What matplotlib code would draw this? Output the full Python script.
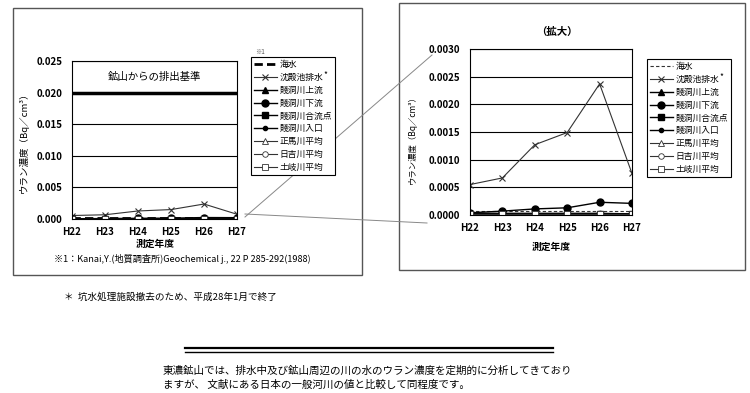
import matplotlib
matplotlib.use("Agg")
import matplotlib.pyplot as plt
from matplotlib.lines import Line2D
from matplotlib.patches import Rectangle
from matplotlib.ticker import FormatStrFormatter, MultipleLocator

plt.rcParams['font.family'] = ['Noto Sans CJK JP', 'DejaVu Sans']

# ---- data ----
years = ['H22', 'H23', 'H24', 'H25', 'H26', 'H27']
seawater = [0.00008, 0.00008, 0.00008, 0.00008, 0.00008, 0.00008]
settling_pond = [0.00055, 0.00067, 0.00127, 0.00149, 0.00237, 0.00075]
river_upstream = [0.00003, 0.00002, 0.00002, 0.00002, 0.00002, 0.00002]
river_downstream = [0.00004, 0.00007, 0.00011, 0.00013, 0.00023, 0.00021]
river_confluence = [0.00002, 0.00001, 0.00001, 0.00001, 0.00001, 0.00001]
river_inlet = [0.00003, 0.00003, 0.00003, 0.00003, 0.00003, 0.00002]
shoma_avg = [0.00002, 0.00002, 0.00002, 0.00002, 0.00002, 0.00002]
hiyoshi_avg = [0.00002, 0.00002, 0.00002, 0.00002, 0.00002, 0.00002]
toki_avg = [0.00001, 0.00001, 0.00001, 0.00001, 0.00001, 0.00001]
limit_value = 0.020

labels = ['海水', '沈殿池排水', '賤洞川上流', '賤洞川下流', '賤洞川合流点',
          '賤洞川入口', '正馬川平均', '日吉川平均', '土岐川平均']

W, H = 750, 393
fig = plt.figure(figsize=(7.5, 3.93), dpi=100)

def fx(px):
    return px / W

def fy(py):
    return 1 - py / H

x = list(range(len(years)))

def draw(ax, sea_lw, sea_color, sea_dash):
    hs = []
    hs += ax.plot(x, seawater, ls=sea_dash, color=sea_color, lw=sea_lw)
    hs += ax.plot(x, settling_pond, color='#333333', lw=0.8, marker='x', ms=5, mew=0.8)
    hs += ax.plot(x, river_upstream, color='black', lw=1.0, marker='^', ms=4)
    hs += ax.plot(x, river_downstream, color='black', lw=1.0, marker='o', ms=5)
    hs += ax.plot(x, river_confluence, color='black', lw=1.0, marker='s', ms=5)
    hs += ax.plot(x, river_inlet, color='black', lw=1.0, marker='o', ms=3)
    hs += ax.plot(x, shoma_avg, color='#333333', lw=0.8, marker='^', ms=4, mfc='white', mew=0.6)
    hs += ax.plot(x, hiyoshi_avg, color='#333333', lw=0.8, marker='o', ms=4, mfc='white', mew=0.6)
    hs += ax.plot(x, toki_avg, color='#333333', lw=0.8, marker='s', ms=4, mfc='white', mew=0.6)
    ax.set_xlim(0, len(years) - 1)
    ax.set_xticks(x)
    ax.set_xticklabels(years)
    ax.grid(axis='y', color='black', lw=0.8)
    ax.set_axisbelow(True)
    for s in ax.spines.values():
        s.set_color('black')
        s.set_linewidth(0.8)
    ax.tick_params(length=0, labelsize=7)
    ax.tick_params(axis='x', pad=6)
    ax.tick_params(axis='y', pad=7)
    return hs

def style_ticks(ax):
    for t in ax.get_xticklabels() + ax.get_yticklabels():
        t.set_fontweight('bold')

# ---- panel boxes ----
fig.add_artist(Rectangle((fx(13), fy(275)), fx(362) - fx(13), fy(8) - fy(275),
                         transform=fig.transFigure, fill=False, ec='#555555', lw=1, zorder=-3))
fig.add_artist(Rectangle((fx(399), fy(270)), fx(745) - fx(399), fy(3) - fy(270),
                         transform=fig.transFigure, fill=False, ec='#555555', lw=1, zorder=-3))

# ---- connecting lines ----
fig.add_artist(Line2D([fx(245), fx(432)], [fy(217), fy(55)], transform=fig.transFigure,
                      color='#888888', lw=0.7, zorder=-2))
fig.add_artist(Line2D([fx(245), fx(427)], [fy(214), fy(223)], transform=fig.transFigure,
                      color='#888888', lw=0.7, zorder=-2))

leg_kw = dict(loc='upper left', bbox_transform=fig.transFigure, borderaxespad=0,
              fontsize=6.3, fancybox=False, edgecolor='black', framealpha=1,
              labelspacing=0.44, handlelength=2.6, handletextpad=0.3, borderpad=0.35)

# ---- left chart ----
ax1 = fig.add_axes([fx(72), fy(219), fx(237) - fx(72), fy(61) - fy(219)])
h1 = draw(ax1, 2.0, 'black', (0, (3, 1.5)))
ax1.axhline(limit_value, color='black', lw=2.5, zorder=3)
ax1.set_ylim(0, 0.025)
ax1.yaxis.set_major_locator(MultipleLocator(0.005))
ax1.yaxis.set_major_formatter(FormatStrFormatter('%.3f'))
style_ticks(ax1)
ax1.text((len(years) - 1) / 2, 0.0225, '鉱山からの排出基準', ha='center', va='center', fontsize=7.5)
leg1 = ax1.legend(h1, labels, bbox_to_anchor=(fx(251), fy(57)), **leg_kw)
leg1.get_frame().set_linewidth(0.8)

# ---- right chart ----
ax2 = fig.add_axes([fx(470), fy(215), fx(632) - fx(470), fy(49) - fy(215)])
h2 = draw(ax2, 0.8, '#333333', (0, (3, 2)))
ax2.set_ylim(0, 0.003)
ax2.yaxis.set_major_locator(MultipleLocator(0.0005))
ax2.yaxis.set_major_formatter(FormatStrFormatter('%.4f'))
style_ticks(ax2)
leg2 = ax2.legend(h2, labels, bbox_to_anchor=(fx(647), fy(59)), **leg_kw)
leg2.get_frame().set_linewidth(0.8)

# ---- texts ----
ylab = 'ウラン濃度（Bq／cm³）'
fig.text(fx(24), fy(140), ylab, rotation=90, ha='center', va='center', fontsize=6.8)
fig.text(fx(412), fy(138), ylab, rotation=90, ha='center', va='center', fontsize=6.0)
fig.text(fx(155), fy(244), '測定年度', ha='center', va='center', fontsize=7, fontweight='bold')
fig.text(fx(551), fy(247), '測定年度', ha='center', va='center', fontsize=7, fontweight='bold')
fig.text(fx(557), fy(32), '（拡大）', ha='center', va='center', fontsize=7.5, fontweight='bold')
fig.text(fx(182), fy(259), '※1：Kanai,Y.(地質調査所)Geochemical j., 22 P 285-292(1988)',
         ha='center', va='center', fontsize=6.6)
fig.text(fx(255), fy(52), '※1', ha='left', va='center', fontsize=4.5, color='#555555')
fig.text(fx(64), fy(297), '＊  坑水処理施設撤去のため、平成28年1月で終了',
         ha='left', va='center', fontsize=6.9)

# double rule
fig.add_artist(Line2D([fx(185), fx(553)], [fy(348), fy(348)], transform=fig.transFigure,
                      color='black', lw=1.6))
fig.add_artist(Line2D([fx(185), fx(553)], [fy(351.5), fy(351.5)], transform=fig.transFigure,
                      color='black', lw=1.0))
fig.text(fx(163), fy(371), '東濃鉱山では、排水中及び鉱山周辺の川の水のウラン濃度を定期的に分析してきており',
         ha='left', va='center', fontsize=7.6)
fig.text(fx(163), fy(385), 'ますが、 文献にある日本の一般河川の値と比較して同程度です。',
         ha='left', va='center', fontsize=7.6)

# superscript asterisk after 沈殿池排水 in both legends
fig.canvas.draw()
r = fig.canvas.get_renderer()
for leg in (leg1, leg2):
    bb = leg.get_texts()[1].get_window_extent(r)
    fig.text(bb.x1 / W + 0.001, bb.y1 / H - 0.004, '*', ha='left', va='center', fontsize=6)

fig.savefig('out.png', dpi=100)
